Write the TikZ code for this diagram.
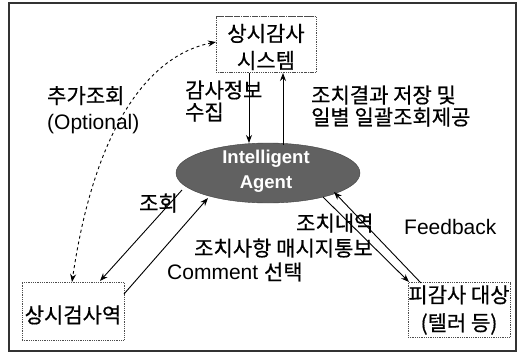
\documentclass[tikz,border=0pt]{standalone}
\usepackage{fontspec}
\setmainfont{Liberation Sans}
\newfontfamily\kr[FakeBold=0.6]{Noto Sans CJK KR}
\newcommand\krsz{\fontsize{21}{22}\selectfont}
\usetikzlibrary{shapes.geometric,arrows.meta}
\tikzset{
  lbl/.style={font=\fontsize{21}{24}\selectfont, inner sep=0pt, align=left, anchor=west},
  krl/.style={lbl, font=\fontsize{21}{#1}\selectfont\kr},
  dotbox/.style={draw=black!70, densely dotted, line width=0.8pt, inner sep=0pt},
  arr/.style={-{Stealth[length=8pt,width=6pt]}, line width=0.9pt},
}
\begin{document}
\begin{tikzpicture}[x=1pt,y=-1pt]
\useasboundingbox (0,0) rectangle (517,356);
% frame
\draw[line width=1.6pt, black!80] (9,3) rectangle (516,351);

% cylinder
\node[cylinder, shape border rotate=90, aspect=0.22, dotbox, minimum width=100pt, minimum height=56pt] (sys) at (266,45) {};
\node[krl=27, anchor=center, align=center] at (266,47) {상시감사\\시스템};

% ellipse
\node[ellipse, fill=black!62, draw=black!75, minimum width=184pt, minimum height=60pt, inner sep=0pt] (ag) at (268,173) {};
\node[anchor=center, align=center, text=white, font=\fontsize{18.5}{25}\selectfont\bfseries, inner sep=0pt] at (266,171) {Intelligent\\Agent};

% boxes
\node[dotbox, minimum width=102pt, minimum height=58pt] (insp) at (73,311) {};
\node[krl=22, anchor=center] at (73,315) {상시검사역};
\node[dotbox, minimum width=102pt, minimum height=55pt] (tgt) at (459,310) {};
\node[krl=28, anchor=center, align=center] at (459,310) {피감사 대상\\(텔러 등)};

% arrows top
\coordinate (s1) at (249,73);
\coordinate (e1) at (249,143);
\draw[arr] (s1) -- (e1);
\coordinate (s2) at (283,145);
\coordinate (e2) at (283,73);
\draw[arr] (s2) -- (e2);

% dashed curve
\coordinate (d1) at (216,42);
\coordinate (d2) at (72,282);
\draw[line width=0.9pt, dashed, {Stealth[length=8pt,width=6pt]}-{Stealth[length=8pt,width=6pt]}] (d1) .. controls (150,55) and (95,125) .. (d2);

% left arrows
\coordinate (l1) at (182,190);
\coordinate (l2) at (100,281);
\draw[arr] (l1) -- (l2);
\coordinate (l3) at (124,294);
\coordinate (l4) at (208,198);
\draw[arr] (l3) -- (l4);

% right arrows
\coordinate (r1) at (323,197);
\coordinate (r2) at (409,282);
\draw[arr] (r1) -- (r2);
\coordinate (r3) at (421,283);
\coordinate (r4) at (334,192);
\draw[arr] (r3) -- (r4);

% labels
\node[krl=22] at (185,101) {감사정보\\수집};
\node[krl=22] at (311,106) {조치결과 저장 및\\일별 일괄조회제공};
\node[lbl, font=\fontsize{21}{26}\selectfont] at (47,110) {{\kr\krsz 추가조회}\\(Optional)};
\node[krl=22] at (139,203) {조회};
\node[krl=22] at (296,223) {조치내역};
\node[lbl] at (404,227) {Feedback};
\node[krl=22] at (194,248) {조치사항 매시지통보};
\node[lbl] at (167,272) {Comment {\kr\krsz 선택}};
\end{tikzpicture}
\end{document}
